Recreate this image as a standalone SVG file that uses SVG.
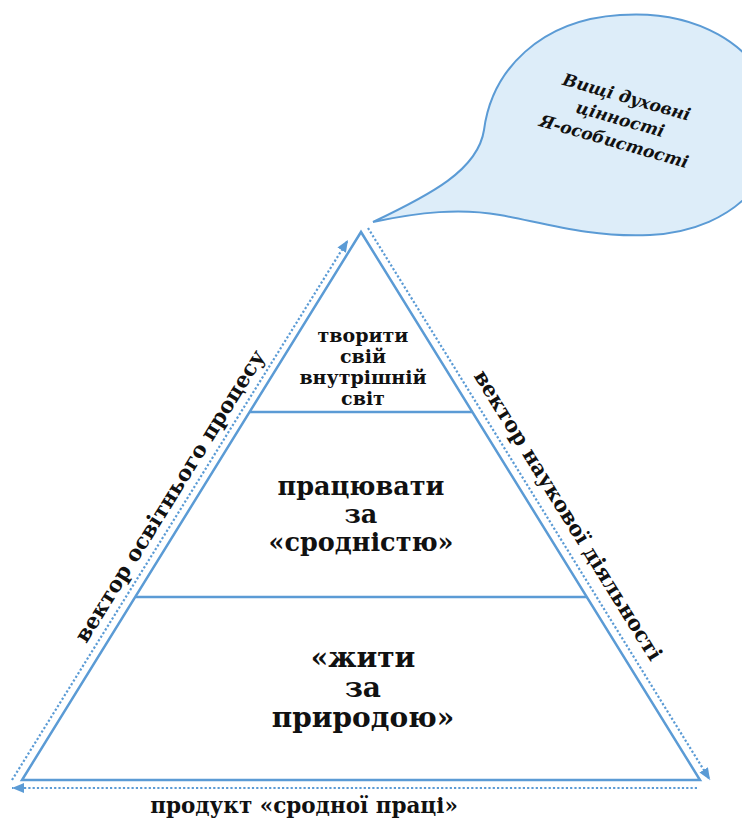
<svg xmlns="http://www.w3.org/2000/svg" width="742" height="819" viewBox="0 0 742 819">
<style>
.edge{fill:none;stroke:#5b9bd5;stroke-width:2.5}
.dot{fill:none;stroke:#5b9bd5;stroke-width:2.2;stroke-dasharray:2.2 2.1}
.t{font-family:"DejaVu Serif","Liberation Serif",serif;font-weight:bold;fill:#111;text-anchor:middle}
.bub{fill:#ddedf9;stroke:#5b9bd5;stroke-width:2}
</style>
<defs>
<marker id="ah" markerUnits="userSpaceOnUse" markerWidth="14" markerHeight="12" refX="12" refY="5" orient="auto">
<path d="M0,0 L12,5 L0,10 Z" fill="#5b9bd5"/>
</marker>
</defs>
<rect width="742" height="819" fill="#fff"/>
<g id="bubble">
<path class="bub" d="M373,222 C430,195 478,170 484,130 C492,70 540,20 620,15 C690,10 760,40 775,110 C785,170 740,230 650,235 C590,238 540,222 500,215 C460,208 420,212 373,222 Z"/>
<text class="t" font-style="italic" font-size="17" transform="translate(620,120) rotate(16)"><tspan x="0" y="-18">Вищі духовні</tspan><tspan x="0" y="5">цінності</tspan><tspan x="0" y="28">Я-особистості</tspan></text>
</g>
<g id="pyramid">
<path class="edge" d="M361,232 L22,780 L700,780 Z"/>
<line class="edge" x1="249" y1="412" x2="473" y2="412"/>
<line class="edge" x1="136" y1="597" x2="587" y2="597"/>
</g>
<g id="level-top">
<text class="t" font-size="19"><tspan x="363" y="342">творити</tspan><tspan x="363" y="363">свій</tspan><tspan x="363" y="384">внутрішній</tspan><tspan x="363" y="405">світ</tspan></text>
</g>
<g id="level-middle">
<text class="t" font-size="25.5"><tspan x="361" y="495">працювати</tspan><tspan x="361" y="523">за</tspan><tspan x="361" y="551">«сродністю»</tspan></text>
</g>
<g id="level-bottom">
<text class="t" font-size="28"><tspan x="363" y="667">«жити</tspan><tspan x="363" y="697">за</tspan><tspan x="363" y="727">природою»</tspan></text>
</g>
<g id="connectors">
<line class="dot" x1="12" y1="780" x2="348" y2="240" marker-end="url(#ah)"/>
<line class="dot" x1="368" y1="228" x2="710" y2="780" marker-end="url(#ah)"/>
<line class="dot" x1="697" y1="788" x2="12" y2="788" marker-end="url(#ah)"/>
</g>
<g id="labels">
<text class="t" font-size="21.5" transform="translate(176,500) rotate(-58.1)">вектор освітнього процесу</text>
<text class="t" font-size="21" transform="translate(562,519) rotate(58.2)">вектор наукової діяльності</text>
<text class="t" font-size="21.5" x="304" y="813">продукт «сродної праці»</text>
</g>
</svg>
